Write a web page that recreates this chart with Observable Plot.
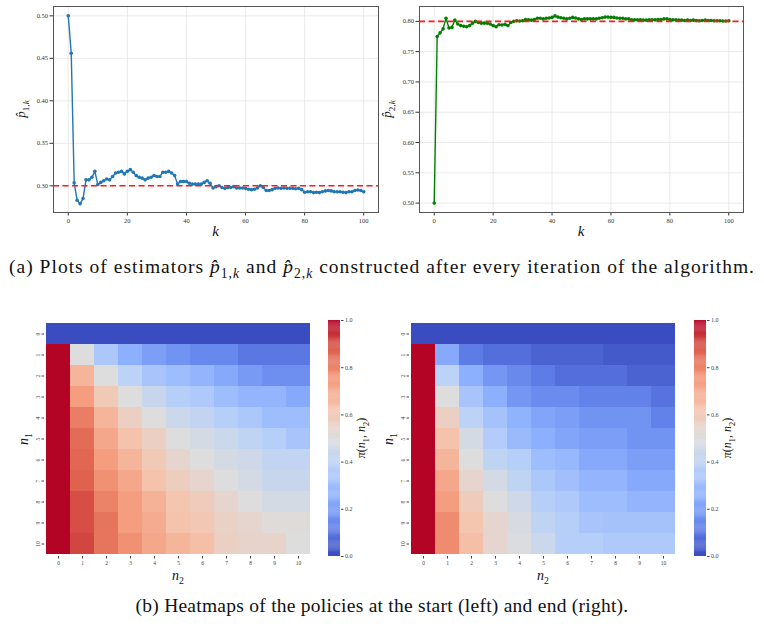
<!DOCTYPE html>
<html>
<head>
<meta charset="utf-8">
<script src="https://cdn.jsdelivr.net/npm/d3@7"></script>
<script src="https://cdn.jsdelivr.net/npm/@observablehq/plot@0.6"></script>
<style>
  body { margin: 0; background: #fff; }
  #fig { position: relative; width: 764px; height: 628px; font-family: "Liberation Serif", serif; color: #111; }
  .panel { position: absolute; }
  .cap { position: absolute; left: 0; width: 764px; text-align: center; font-size: 19.5px; white-space: nowrap; }
  .cap span.inner { display: inline-block; }
  .cap sub { font-size: 70%; line-height: 0; }
</style>
</head>
<body>
<div id="fig"></div>
<script>
// Iteration index and tick values
const ks = d3.range(0, 101);
const kTicks = [0, 20, 40, 60, 80, 100];

// Estimator of p1 after each iteration
const p1Hat = [
  0.500, 0.456, 0.3035, 0.283, 0.279, 0.285, 0.307, 0.307, 0.310, 0.317,
  0.3015, 0.304, 0.306, 0.308, 0.307, 0.311, 0.315, 0.316, 0.317, 0.314,
  0.317, 0.319, 0.316, 0.312, 0.310, 0.309, 0.307, 0.309, 0.310, 0.312,
  0.311, 0.311, 0.316, 0.316, 0.317, 0.315, 0.312, 0.302, 0.305, 0.305,
  0.305, 0.303, 0.302, 0.302, 0.302, 0.302, 0.304, 0.306, 0.303, 0.2975,
  0.299, 0.300, 0.298, 0.297, 0.298, 0.298, 0.299, 0.2975, 0.2975, 0.2975,
  0.297, 0.296, 0.2955, 0.296, 0.2975, 0.300, 0.298, 0.2945, 0.2945, 0.2955,
  0.297, 0.2975, 0.297, 0.2975, 0.297, 0.297, 0.297, 0.2965, 0.297, 0.2955,
  0.2925, 0.293, 0.293, 0.292, 0.2925, 0.292, 0.293, 0.294, 0.2945, 0.294,
  0.293, 0.293, 0.293, 0.2925, 0.292, 0.293, 0.293, 0.2945, 0.295, 0.2945, 0.293
];
// Estimator of p2 after each iteration
const p2Hat = [
  0.500, 0.775, 0.781, 0.7875, 0.805, 0.789, 0.790, 0.802, 0.7955, 0.793,
  0.792, 0.791, 0.793, 0.797, 0.800, 0.798, 0.797, 0.797, 0.797, 0.7955,
  0.793, 0.791, 0.7945, 0.794, 0.795, 0.793, 0.798, 0.800, 0.801, 0.8005,
  0.801, 0.803, 0.8025, 0.802, 0.803, 0.805, 0.805, 0.804, 0.805, 0.8055,
  0.8065, 0.809, 0.807, 0.806, 0.805, 0.804, 0.805, 0.8065, 0.8055, 0.804,
  0.803, 0.804, 0.804, 0.804, 0.804, 0.804, 0.805, 0.806, 0.807, 0.807,
  0.8065, 0.8065, 0.8055, 0.805, 0.805, 0.804, 0.804, 0.8025, 0.8025, 0.8025,
  0.8025, 0.802, 0.802, 0.8025, 0.8025, 0.8025, 0.803, 0.803, 0.804, 0.804,
  0.803, 0.8025, 0.8025, 0.802, 0.802, 0.8015, 0.802, 0.8015, 0.802, 0.8015,
  0.801, 0.8015, 0.802, 0.8015, 0.8015, 0.801, 0.801, 0.801, 0.8005, 0.8005, 0.801
];
const p1True = 0.30;
const p2True = 0.80;
const p1Ticks = [0.30, 0.35, 0.40, 0.45, 0.50];
const p2Ticks = [0.50, 0.55, 0.60, 0.65, 0.70, 0.75, 0.80];

// Policy grids pi(n1, n2): rows n1 = 0..10, columns n2 = 0..10
const nValues = d3.range(0, 11);
const policyStart = [
  [0, 0, 0, 0, 0, 0, 0, 0, 0, 0, 0],
  [1, 0.50, 0.34, 0.25, 0.20, 0.17, 0.14, 0.14, 0.10, 0.10, 0.10],
  [1, 0.67, 0.50, 0.39, 0.33, 0.30, 0.27, 0.23, 0.19, 0.16, 0.16],
  [1, 0.74, 0.60, 0.50, 0.43, 0.37, 0.35, 0.30, 0.27, 0.27, 0.23],
  [1, 0.81, 0.67, 0.57, 0.50, 0.44, 0.41, 0.37, 0.34, 0.30, 0.30],
  [1, 0.85, 0.71, 0.63, 0.57, 0.50, 0.47, 0.44, 0.40, 0.37, 0.33],
  [1, 0.86, 0.74, 0.67, 0.60, 0.54, 0.50, 0.47, 0.45, 0.41, 0.41],
  [1, 0.87, 0.77, 0.71, 0.63, 0.58, 0.54, 0.50, 0.47, 0.43, 0.43],
  [1, 0.90, 0.80, 0.74, 0.68, 0.62, 0.59, 0.54, 0.50, 0.47, 0.47],
  [1, 0.90, 0.83, 0.74, 0.70, 0.63, 0.61, 0.56, 0.54, 0.51, 0.51],
  [1, 0.91, 0.83, 0.77, 0.71, 0.67, 0.64, 0.57, 0.55, 0.55, 0.50]
];
const policyEnd = [
  [0, 0, 0, 0, 0, 0, 0, 0, 0, 0, 0],
  [1, 0.23, 0.11, 0.08, 0.08, 0.05, 0.05, 0.05, 0.03, 0.03, 0.03],
  [1, 0.39, 0.25, 0.18, 0.145, 0.11, 0.08, 0.08, 0.08, 0.05, 0.05],
  [1, 0.50, 0.33, 0.25, 0.18, 0.15, 0.15, 0.125, 0.125, 0.125, 0.09],
  [1, 0.57, 0.39, 0.32, 0.26, 0.22, 0.20, 0.17, 0.17, 0.17, 0.125],
  [1, 0.63, 0.47, 0.36, 0.29, 0.25, 0.22, 0.20, 0.20, 0.17, 0.17],
  [1, 0.67, 0.50, 0.40, 0.37, 0.30, 0.28, 0.23, 0.23, 0.20, 0.20],
  [1, 0.71, 0.54, 0.47, 0.40, 0.34, 0.31, 0.27, 0.27, 0.23, 0.23],
  [1, 0.74, 0.59, 0.50, 0.45, 0.37, 0.35, 0.30, 0.30, 0.27, 0.27],
  [1, 0.78, 0.62, 0.54, 0.48, 0.40, 0.37, 0.33, 0.32, 0.32, 0.32],
  [1, 0.78, 0.64, 0.54, 0.49, 0.44, 0.37, 0.37, 0.35, 0.35, 0.35]
];
const colorTicks = [0, 0.2, 0.4, 0.6, 0.8, 1.0];

// Diverging cool-warm colour map
const coolwarmStops = ["#3b4cc0", "#6282ea", "#8db0fe", "#b8d0f9", "#dddddd", "#f5c4ad", "#f49a7b", "#de604d", "#b40426"];
const coolwarm = d3.piecewise(d3.interpolateRgb, coolwarmStops);

const FONT = "'Liberation Serif', serif";
const fig = document.getElementById("fig");

function place(node, left, top) {
  const d = document.createElement("div");
  d.className = "panel";
  d.style.left = left + "px";
  d.style.top = top + "px";
  d.appendChild(node);
  fig.appendChild(d);
  return node;
}

// Text with italic / subscript runs, appended to a chart's svg
function addLabel(svg, x, y, rotate, size, parts) {
  const t = d3.select(svg).append("text")
    .attr("transform", `translate(${x},${y}) rotate(${rotate})`)
    .attr("text-anchor", "middle")
    .attr("font-family", FONT)
    .attr("font-size", size)
    .attr("fill", "#111");
  let shift = 0;
  for (const p of parts) {
    const s = t.append("tspan").text(p.t);
    if (p.i) s.attr("font-style", "italic");
    const want = p.sub ? size * 0.3 : 0;
    s.attr("dy", want - shift);
    shift = want;
    if (p.sub) s.attr("font-size", size * 0.7);
  }
}

function estimatorPlot(values, truth, color, yTicks, yDomain, width, mL, mR, idx) {
  const rows = ks.map((k, i) => ({k, p: values[i]}));
  const svg = Plot.plot({
    width, height: 245,
    marginLeft: mL, marginRight: mR, marginTop: 6, marginBottom: 33,
    style: {fontFamily: FONT, fontSize: "6.5px", color: "#333", background: "transparent"},
    x: {domain: [-5, 105], ticks: kTicks, tickSize: 3.5, tickPadding: 2.5, label: null},
    y: {domain: yDomain, ticks: yTicks, tickFormat: d3.format(".2f"), tickSize: 3.5, tickPadding: 2, label: null},
    marks: [
      Plot.ruleX(kTicks, {stroke: "#e4e4e4", strokeWidth: 0.8}),
      Plot.ruleY(yTicks, {stroke: "#e4e4e4", strokeWidth: 0.8}),
      Plot.line(rows, {x: "k", y: "p", stroke: color, strokeWidth: 1.4}),
      Plot.dot(rows, {x: "k", y: "p", fill: color, r: 1.8}),
      Plot.ruleY([truth], {stroke: "#ff1a1a", strokeWidth: 1.6, strokeDasharray: "6,3.5"}),
      Plot.frame({stroke: "#555", strokeWidth: 1})
    ]
  });
  const cx = mL + (width - mL - mR) / 2;
  addLabel(svg, cx, 236, 0, 15, [{t: "k", i: true}]);
  addLabel(svg, mL - 28, 109, -90, 13, [{t: "p\u0302", i: true}, {t: idx + ",", sub: true}, {t: "k", i: true, sub: true}]);
  return svg;
}

function heatmap(grid, width, mL, mR) {
  const cells = [];
  grid.forEach((row, n1) => row.forEach((v, n2) => cells.push({n1, n2, v})));
  const svg = Plot.plot({
    width, height: 285,
    marginLeft: mL, marginRight: mR, marginTop: 15, marginBottom: 34,
    style: {fontFamily: FONT, fontSize: "5.5px", color: "#444", background: "transparent"},
    x: {type: "band", domain: nValues, padding: 0, tickSize: 2.5, tickPadding: 2.5, label: null},
    y: {type: "band", domain: nValues, padding: 0, tickSize: 2.5, tickPadding: 2.5, tickRotate: -90, label: null},
    color: {type: "linear", domain: [0, 1], interpolate: coolwarm},
    marks: [
      Plot.cell(cells, {x: "n2", y: "n1", fill: "v", inset: 0})
    ]
  });
  const cx = mL + (width - mL - mR) / 2;
  addLabel(svg, cx, 275, 0, 14, [{t: "n", i: true}, {t: "2", sub: true}]);
  addLabel(svg, mL - 16, 134, -90, 14, [{t: "n", i: true}, {t: "1", sub: true}]);
  return svg;
}

function colorbar(width) {
  const steps = d3.range(0, 1, 0.004);
  const svg = Plot.plot({
    width, height: 285,
    marginLeft: 8, marginRight: width - 20, marginTop: 15, marginBottom: 34,
    style: {fontFamily: FONT, fontSize: "6px", color: "#444", background: "transparent"},
    y: {domain: [0, 1], axis: "right", ticks: colorTicks, tickFormat: d3.format(".1f"), tickSize: 2.5, tickPadding: 2, label: null},
    color: {type: "linear", domain: [0, 1], interpolate: coolwarm},
    marks: [
      Plot.rectY(steps, {y1: d => d, y2: d => Math.min(1, d + 0.005), fill: d => d + 0.002})
    ]
  });
  addLabel(svg, 45, 133, -90, 12, [
    {t: "\u03c0", i: true}, {t: "("}, {t: "n", i: true}, {t: "1", sub: true},
    {t: ", "}, {t: "n", i: true}, {t: "2", sub: true}, {t: ")"}
  ]);
  return svg;
}

// Caption spread out to a given line width
function caption(html, top, targetWidth) {
  const c = document.createElement("div");
  c.className = "cap";
  c.style.top = top + "px";
  const inner = document.createElement("span");
  inner.className = "inner";
  inner.innerHTML = html;
  c.appendChild(inner);
  fig.appendChild(c);
  const w = inner.getBoundingClientRect().width;
  const n = inner.textContent.length;
  inner.style.letterSpacing = ((targetWidth - w) / n) + "px";
}

// Top row: estimator traces
place(estimatorPlot(p1Hat, p1True, "#1f77b4", p1Ticks, [0.2686, 0.511], 380, 53, 2, "1"), 0, 0);
place(estimatorPlot(p2Hat, p2True, "#008000", p2Ticks, [0.4845, 0.8245], 384, 39, 21, "2"), 380, 0);

caption('(a) Plots of estimators <i>p\u0302</i><sub>1,<i>k</i></sub> and <i>p\u0302</i><sub>2,<i>k</i></sub> constructed after every iteration of the algorithm.', 256, 748);

// Bottom row: policy heatmaps with colour bars
place(heatmap(policyStart, 320, 44, 8), 0, 305);
place(colorbar(60), 320, 305);
place(heatmap(policyEnd, 306, 29, 9), 380, 305);
place(colorbar(78), 686, 305);

caption('(b) Heatmaps of the policies at the start (left) and end (right).', 595, 493);
</script>
</body>
</html>
